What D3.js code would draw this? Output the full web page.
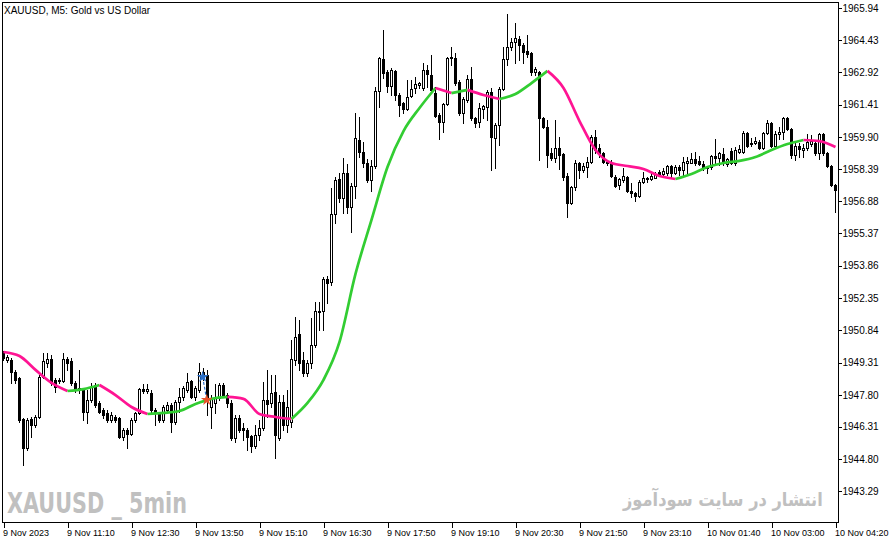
<!DOCTYPE html>
<html><head><meta charset="utf-8">
<script src="https://cdn.jsdelivr.net/npm/d3@7"></script>
<style>
html,body{margin:0;padding:0;background:#fff;}
svg{display:block;}
text{font-family:"Liberation Sans",Arial,sans-serif;}
</style></head><body>
<svg id="chart" width="892" height="543"></svg>
<script>
// ---------- DATA (XAUUSD M5) ----------
const open = [
1949.81,1949.44,1949.44,1948.87,1948.59,1946.67,1945.31,1946.67,1946.39,1946.76,
1948.64,1949.29,1949.48,1948.50,1948.45,1948.45,1949.48,1949.39,1948.36,1948.03,
1948.08,1947.00,1947.56,1948.26,1947.42,1947.09,1946.95,1946.62,1946.76,1946.72,
1945.83,1946.15,1945.97,1946.62,1946.95,1948.08,1947.98,1947.89,1947.09,1946.95,
1946.62,1947.09,1947.33,1946.53,1947.47,1947.70,1948.03,1948.45,1947.70,1948.03,
1948.87,1948.73,1947.23,1947.42,1947.65,1948.26,1947.79,1947.42,1945.78,1946.72,
1946.25,1946.15,1945.87,1945.40,1945.92,1946.25,1947.56,1947.42,1947.93,1945.78,
1947.47,1946.39,1946.53,1949.44,1950.65,1949.44,1948.83,1949.29,1950.14,1951.69,
1951.73,1953.23,1953.09,1956.28,1957.92,1957.03,1958.20,1956.61,1957.59,1959.75,
1959.19,1958.67,1957.88,1958.53,1962.05,1963.55,1962.94,1962.28,1962.99,1961.86,
1961.49,1961.20,1961.81,1962.19,1962.33,1962.19,1963.03,1962.80,1961.95,1960.92,
1960.59,1961.44,1963.64,1963.59,1962.47,1961.02,1961.63,1962.61,1960.78,1960.59,
1961.20,1961.30,1962.00,1959.84,1960.45,1962.14,1963.55,1964.11,1964.35,1964.49,
1964.20,1963.92,1963.83,1962.94,1962.94,1960.78,1960.36,1959.14,1958.91,1959.38,
1959.09,1958.06,1956.80,1957.55,1958.67,1958.34,1958.48,1958.72,1959.89,1959.38,
1959.14,1958.72,1958.72,1958.02,1957.64,1957.88,1958.02,1957.36,1957.27,1957.13,
1957.78,1957.92,1957.92,1957.97,1958.25,1958.16,1958.20,1958.53,1958.20,1958.48,
1958.34,1958.67,1958.67,1958.86,1958.77,1958.62,1958.44,1958.48,1959.00,1958.91,
1959.09,1958.62,1959.23,1958.67,1959.19,1959.19,1960.08,1959.61,1959.61,1959.66,
1959.38,1960.08,1960.55,1959.47,1960.03,1960.13,1960.78,1960.27,1959.05,1959.47,
1959.28,1959.38,1959.56,1959.61,1959.14,1960.03,1959.14,1958.53,1957.64,1956.94];
const high = [
1949.86,1949.67,1949.53,1948.97,1948.64,1946.72,1946.72,1946.76,1946.86,1948.73,
1949.76,1949.76,1949.67,1948.59,1948.59,1949.76,1949.58,1949.53,1948.45,1948.97,
1948.12,1948.03,1948.36,1948.36,1947.51,1947.18,1947.09,1947.00,1946.86,1946.76,
1946.25,1946.25,1946.72,1947.00,1948.12,1948.31,1948.31,1948.03,1947.18,1947.00,
1947.33,1947.47,1947.42,1947.56,1948.12,1948.22,1948.83,1948.50,1948.22,1949.29,
1949.06,1948.97,1947.79,1948.31,1948.36,1948.36,1947.89,1947.56,1946.86,1946.86,
1946.48,1946.25,1945.92,1946.39,1946.62,1948.40,1948.97,1948.73,1948.73,1947.79,
1947.79,1948.03,1950.37,1951.45,1951.31,1949.81,1949.44,1951.40,1952.15,1952.15,
1953.33,1953.37,1957.50,1958.02,1958.20,1958.91,1958.62,1957.73,1961.02,1960.83,
1959.66,1958.86,1958.81,1962.24,1963.64,1964.91,1963.03,1963.13,1963.03,1961.95,
1961.53,1962.56,1962.56,1962.71,1962.47,1963.36,1963.27,1963.74,1962.24,1961.02,
1961.48,1963.64,1964.11,1963.83,1962.56,1961.77,1962.80,1963.17,1960.83,1961.48,
1961.39,1962.10,1962.19,1960.55,1962.24,1964.11,1965.66,1964.53,1965.24,1964.63,
1964.30,1964.67,1963.88,1963.17,1962.99,1960.83,1960.69,1959.38,1960.69,1959.89,
1959.14,1958.20,1957.59,1958.81,1958.72,1958.67,1958.95,1959.98,1960.22,1959.56,
1959.19,1958.81,1958.81,1958.11,1957.97,1958.44,1958.06,1957.73,1957.31,1957.88,
1958.25,1958.02,1958.20,1958.25,1958.34,1958.44,1958.58,1958.58,1958.58,1958.58,
1958.95,1958.95,1959.14,1959.19,1959.00,1958.77,1958.53,1959.05,1959.80,1959.19,
1959.38,1958.91,1959.38,1959.42,1959.52,1960.17,1960.13,1959.84,1959.89,1959.75,
1960.13,1960.69,1960.59,1960.17,1960.36,1960.83,1960.83,1960.31,1959.66,1959.61,
1959.56,1960.03,1959.98,1959.70,1960.08,1960.08,1959.19,1958.58,1957.69,1957.59];
const low = [
1949.44,1949.34,1948.36,1948.36,1946.53,1944.51,1945.22,1945.83,1946.29,1946.72,
1948.59,1949.11,1948.26,1947.93,1948.36,1948.40,1948.97,1948.26,1947.93,1947.89,
1946.62,1946.48,1947.47,1947.23,1946.95,1946.72,1946.53,1946.53,1946.53,1945.78,
1945.68,1945.31,1945.92,1946.53,1946.90,1947.89,1947.89,1947.00,1946.39,1946.53,
1946.53,1947.00,1946.06,1946.43,1947.00,1947.56,1947.93,1947.65,1947.56,1947.93,
1948.50,1946.86,1946.25,1946.95,1947.56,1947.70,1947.23,1945.68,1945.59,1946.06,
1945.68,1945.22,1945.12,1945.31,1945.68,1946.15,1946.76,1947.23,1944.84,1945.68,
1946.15,1946.06,1946.29,1949.20,1948.97,1948.69,1948.69,1949.06,1950.05,1950.84,
1950.84,1952.11,1952.95,1955.86,1956.84,1956.33,1956.33,1955.44,1957.03,1958.95,
1958.48,1957.78,1957.36,1958.44,1961.30,1962.66,1962.00,1961.86,1961.63,1960.88,
1961.02,1961.16,1961.77,1961.95,1962.19,1962.10,1962.24,1962.00,1960.83,1959.80,
1960.13,1961.39,1963.27,1962.33,1960.92,1960.55,1961.53,1960.69,1960.36,1960.36,
1960.78,1960.69,1958.34,1958.44,1959.52,1962.10,1963.27,1963.97,1963.36,1963.50,
1963.36,1963.64,1962.80,1962.80,1958.81,1960.31,1958.48,1958.81,1958.72,1958.39,
1957.88,1956.14,1956.75,1957.41,1957.97,1958.25,1958.02,1958.67,1959.14,1958.95,
1958.67,1958.58,1958.02,1957.55,1957.45,1957.78,1957.31,1957.08,1956.89,1957.08,
1957.73,1957.78,1957.88,1957.97,1958.06,1958.06,1958.11,1958.02,1958.16,1958.11,
1958.02,1958.20,1958.67,1958.58,1958.58,1958.34,1958.20,1958.39,1958.67,1958.58,
1958.58,1958.53,1958.62,1958.58,1959.14,1959.14,1959.42,1959.47,1959.56,1959.33,
1959.33,1960.03,1959.42,1959.42,1959.80,1959.80,1960.22,1958.91,1958.81,1958.95,
1958.95,1959.28,1959.47,1959.05,1958.86,1959.05,1958.48,1957.59,1956.38,1956.89];
const close = [
1949.53,1949.58,1948.87,1948.50,1946.62,1945.31,1946.62,1946.39,1946.76,1948.64,
1949.39,1949.48,1948.36,1948.17,1948.50,1949.48,1949.29,1948.36,1948.03,1948.12,
1947.00,1947.56,1948.17,1947.33,1947.00,1946.86,1946.62,1946.86,1946.62,1945.83,
1946.15,1945.97,1946.62,1946.95,1948.08,1947.98,1948.08,1947.09,1946.95,1946.62,
1947.23,1947.33,1946.53,1947.47,1947.70,1948.12,1948.40,1947.70,1948.12,1948.87,
1948.69,1947.56,1947.61,1947.70,1948.26,1947.79,1947.42,1945.78,1946.72,1946.15,
1946.15,1945.83,1945.40,1945.92,1946.25,1947.56,1947.37,1947.89,1945.92,1947.47,
1946.39,1947.23,1949.48,1950.52,1949.29,1948.83,1949.29,1950.14,1951.73,1951.73,
1953.23,1953.05,1956.28,1957.88,1957.03,1958.20,1956.61,1957.59,1959.84,1959.19,
1958.67,1957.88,1958.53,1962.05,1963.59,1962.89,1962.28,1963.03,1961.86,1961.39,
1961.20,1961.77,1962.14,1962.38,1962.42,1963.03,1962.85,1962.10,1960.88,1960.59,
1961.44,1963.59,1963.59,1962.42,1961.02,1961.67,1962.61,1960.78,1960.55,1961.25,
1961.34,1962.00,1959.89,1960.45,1962.14,1963.55,1964.11,1964.35,1964.53,1964.20,
1963.88,1963.78,1962.94,1963.08,1960.78,1960.36,1959.05,1958.91,1959.38,1959.05,
1958.02,1956.80,1957.55,1958.67,1958.34,1958.53,1958.72,1959.89,1959.28,1959.14,
1958.72,1958.67,1958.06,1957.59,1957.92,1958.06,1957.36,1957.27,1957.13,1957.78,
1957.97,1957.97,1958.06,1958.16,1958.11,1958.30,1958.53,1958.20,1958.48,1958.34,
1958.72,1958.77,1958.86,1958.67,1958.62,1958.44,1958.48,1959.00,1958.91,1959.14,
1958.67,1958.86,1958.67,1959.28,1959.33,1960.08,1959.47,1959.56,1959.70,1959.38,
1960.08,1960.55,1959.47,1960.03,1960.13,1960.78,1960.27,1959.05,1959.47,1959.33,
1959.38,1959.66,1959.70,1959.14,1960.03,1959.14,1958.53,1957.64,1957.41,1957.50];

// moving-average indicator, read every 4 bars
const maBars = [0,4,8,12,16,20,24,28,32,36,40,44,48,52,56,60,64,68,72,76,80,84,88,92,96,100,
  104,108,112,116,120,124,128,132,136,140,144,148,152,156,160,164,168,172,176,180,184,188,192,196,200,204,208];
const maValues = [1949.81,1949.62,1948.97,1948.36,1947.98,1948.07,1948.26,1947.79,1947.23,1946.90,
  1946.95,1947.04,1947.37,1947.61,1947.70,1947.61,1946.90,1946.76,1946.67,1947.42,1948.50,1950.28,
  1953.47,1956.00,1958.48,1960.17,1961.25,1962.19,1961.95,1962.10,1961.86,1961.67,1961.91,1962.42,
  1962.99,1962.19,1960.64,1959.28,1958.67,1958.53,1958.39,1958.06,1957.92,1958.16,1958.48,1958.67,
  1958.77,1958.95,1959.28,1959.56,1959.75,1959.70,1959.42];

// trade markers (bar position, price)
const tradeBars = [49.8, 50.8];
const tradePrices = [1948.64, 1947.56];
const tradeSides = ["buy", "sell"];

const timeLabels = ["9 Nov 2023","9 Nov 11:10","9 Nov 12:30","9 Nov 13:50","9 Nov 15:10","9 Nov 16:30",
  "9 Nov 17:50","9 Nov 19:10","9 Nov 20:30","9 Nov 21:50","9 Nov 23:10","10 Nov 01:40","10 Nov 03:00","10 Nov 04:20"];
const timeTickBars = [0,16,32,48,64,80,96,112,128,144,160,176,192,208];
const priceTicks = [1965.94,1964.43,1962.92,1961.41,1959.90,1958.39,1956.88,1955.37,1953.86,
  1952.35,1950.84,1949.31,1947.80,1946.31,1944.80,1943.29];

const titleText = "XAUUSD, M5:  Gold vs US Dollar";
const watermarkLeft = "XAUUSD _ 5min";
const watermarkRight = "انتشار در سایت سودآموز";

// ---------- DRAW ----------
const W = 892, H = 543;
const L = 2, R = 838, T = 2, B = 522;
const svg = d3.select("#chart");
svg.append("rect").attr("width", W).attr("height", H).attr("fill", "#fff");

const x = d3.scaleLinear().domain([0, 208]).range([3, 835]);
const y = d3.scaleLinear().domain([1943.29, 1965.94]).range([491, 8]);

svg.append("defs").append("clipPath").attr("id", "plot")
  .append("rect").attr("x", L).attr("y", T).attr("width", R - L).attr("height", B - T);

// watermarks (scaled horizontally to the reference widths)
function fitText(txt, x0, y0, width, family, size) {
  const gg = svg.append("g");
  const t = gg.append("text").attr("x", 0).attr("y", 0).attr("fill", "#c0c0c0")
    .style("font-family", family).style("font-weight", "bold").style("font-size", size + "px")
    .text(txt);
  const w = t.node().getComputedTextLength() || width;
  gg.attr("transform", `translate(${x0},${y0}) scale(${width / w},1)`);
}
fitText(watermarkLeft, 7, 513, 180, "'Liberation Sans Narrow','DejaVu Sans Condensed','Liberation Sans',sans-serif", 29);
fitText(watermarkRight, 623, 506, 200, "'DejaVu Sans',sans-serif", 19);

const bars = d3.range(open.length).map(i => ({i, o: open[i], h: high[i], l: low[i], c: close[i]}));
const g = svg.append("g").attr("clip-path", "url(#plot)");

// wicks
g.append("g").attr("shape-rendering", "crispEdges").selectAll("line").data(bars).join("line")
  .attr("x1", d => Math.round(x(d.i)) + 0.5).attr("x2", d => Math.round(x(d.i)) + 0.5)
  .attr("y1", d => Math.round(y(d.h))).attr("y2", d => Math.round(y(d.l)) + 1)
  .attr("stroke", "#000").attr("stroke-width", 1);

// bodies
g.append("g").attr("shape-rendering", "crispEdges").selectAll("rect").data(bars).join("rect")
  .attr("x", d => Math.round(x(d.i)) - 0.5)
  .attr("width", 2)
  .attr("y", d => Math.round(y(Math.max(d.o, d.c))) + 0.5)
  .attr("height", d => Math.max(0.01, Math.round(y(Math.min(d.o, d.c))) - Math.round(y(Math.max(d.o, d.c)))))
  .attr("fill", d => d.c >= d.o ? "#fff" : "#000")
  .attr("stroke", "#000").attr("stroke-width", 1);

// moving average, coloured by direction
const pts = maBars.map((b, i) => [x(b) + 0.5, y(maValues[i])]);
const runs = [];
let cur = null;
for (let i = 0; i < pts.length - 1; i++) {
  const up = maValues[i + 1] >= maValues[i];
  if (!cur || cur.up !== up) { cur = {up, idx: [i]}; runs.push(cur); }
  cur.idx.push(i + 1);
}
const maLine = d3.line().curve(d3.curveMonotoneX);
g.append("g").selectAll("path").data(runs).join("path")
  .attr("d", r => maLine(r.idx.map(k => pts[k])))
  .attr("fill", "none")
  .attr("stroke", r => r.up ? "#32cd32" : "#ff1493")
  .attr("stroke-width", 2.7)
  .attr("stroke-linejoin", "round");

// trade markers
const tp = tradeBars.map((b, i) => [x(b) + 0.5, y(tradePrices[i])]);
g.append("line")
  .attr("x1", tp[0][0]).attr("y1", tp[0][1]).attr("x2", tp[1][0]).attr("y2", tp[1][1])
  .attr("stroke", "#2a6fc9").attr("stroke-width", 1.2).attr("stroke-dasharray", "3,2");
g.selectAll("path.trade").data(tradeBars).join("path").attr("class", "trade")
  .attr("transform", (d, i) => `translate(${tp[i][0]},${tp[i][1]})`)
  .attr("d", d3.symbol(d3.symbolStar, 42)())
  .attr("fill", (d, i) => tradeSides[i] === "buy" ? "#2a6fc9" : "#e8532a");

// frame
svg.append("rect").attr("x", L + 0.5).attr("y", T + 0.5)
  .attr("width", R - L).attr("height", B - T)
  .attr("fill", "none").attr("stroke", "#000").attr("stroke-width", 1)
  .attr("shape-rendering", "crispEdges");

// title
svg.append("text").attr("x", 4).attr("y", 14).style("font-size", "10px").attr("fill", "#000").text(titleText);

// right price axis
const yAxis = d3.axisRight(y).tickValues(priceTicks).tickFormat(d3.format(".2f")).tickSize(3).tickPadding(1);
const ya = svg.append("g").attr("transform", `translate(${R + 0.5},0)`).call(yAxis);
ya.select(".domain").remove();
ya.selectAll("text").style("font-size", "10px").style("font-family", "'Liberation Sans',Arial,sans-serif").attr("fill", "#000");
ya.selectAll("line").attr("stroke", "#000").attr("shape-rendering", "crispEdges");

// bottom time axis
const xAxis = d3.axisBottom(x).tickValues(timeTickBars).tickFormat((d, i) => timeLabels[i]).tickSize(5).tickPadding(2);
const xa = svg.append("g").attr("transform", `translate(0.5,${B + 0.5})`).call(xAxis);
xa.select(".domain").remove();
xa.selectAll("text").attr("text-anchor", "start").attr("x", -1)
  .style("font-size", "9px").style("font-family", "'Liberation Sans',Arial,sans-serif").attr("fill", "#000");
xa.selectAll("line").attr("stroke", "#000").attr("shape-rendering", "crispEdges");
</script>
</body></html>
